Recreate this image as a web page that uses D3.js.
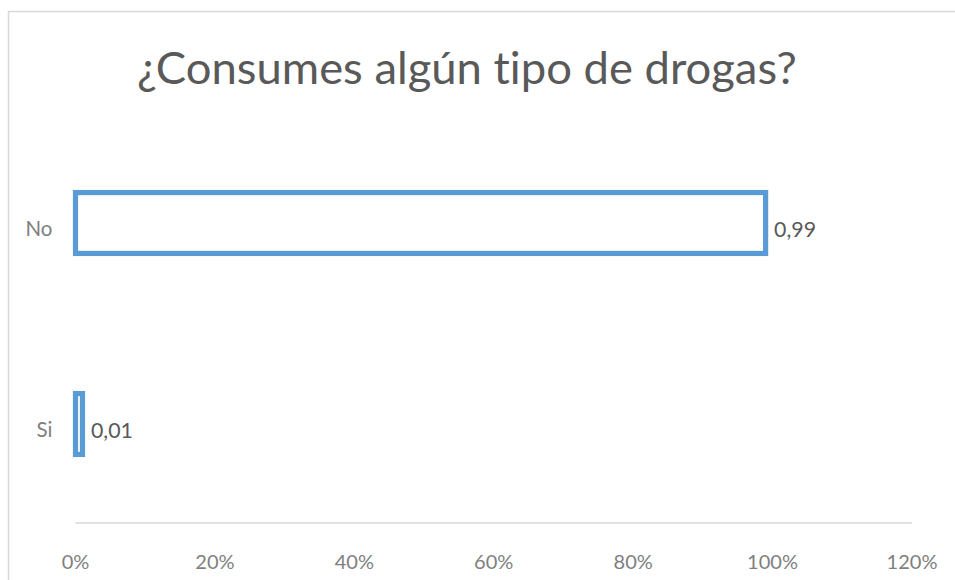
<!DOCTYPE html>
<html>
<head>
<meta charset="utf-8">
<script src="https://cdn.jsdelivr.net/npm/d3@7"></script>
<style>
  html, body { margin: 0; padding: 0; background: #fff; }
  svg { display: block; }
  text { font-family: Lato, "Noto Sans", sans-serif; font-variant-ligatures: none; }
</style>
</head>
<body>
<svg id="chart" width="955" height="580"></svg>
<script>
const title = "¿Consumes algún tipo de drogas?";
const categories = ["No", "Si"];
const values = [0.99, 0.01];
const tickValues = [0, 0.2, 0.4, 0.6, 0.8, 1.0, 1.2];

const W = 955, H = 580;
const svg = d3.select("#chart");

// outer chart border
svg.append("rect")
  .attr("x", 8.5).attr("y", 11.5)
  .attr("width", 960).attr("height", 600)
  .attr("fill", "#fff").attr("stroke", "#d9d9d9").attr("stroke-width", 1.5);

const x = d3.scaleLinear().domain([0, 1.2]).range([75.5, 912]);
const y = d3.scaleBand().domain(categories).range([122.5, 524.5]).paddingInner(0.697).paddingOuter(0.3485);

function fit(sel, targetW) {
  const n = sel.node();
  const fs = parseFloat(sel.attr("font-size"));
  const w = n.getComputedTextLength();
  sel.attr("font-size", fs * targetW / w);
}

// title
const t = svg.append("text")
  .attr("x", 467).attr("y", 83.5)
  .attr("text-anchor", "middle")
  .attr("font-size", 40)
  .attr("fill", "#595959")
  .text(title);
fit(t, 660);

// axis line
svg.append("line")
  .attr("x1", x(0)).attr("x2", x(1.2))
  .attr("y1", 523).attr("y2", 523)
  .attr("stroke", "#d9d9d9").attr("stroke-width", 1.5);

// x tick labels
const ticks = svg.append("g").selectAll("text").data(tickValues).join("text")
  .attr("x", d => x(d)).attr("y", 569)
  .attr("text-anchor", "middle")
  .attr("font-size", 20)
  .attr("fill", "#7f7f7f")
  .text(d => d3.format(".0%")(d));
{
  const last = ticks.filter(d => d === 1.2);
  const w = last.node().getComputedTextLength();
  ticks.attr("font-size", 20 * 51 / w);
}

// bars
const bh = y.bandwidth();
svg.append("g").selectAll("rect").data(categories).join("rect")
  .attr("x", x(0))
  .attr("y", (d) => y(d))
  .attr("width", (d, i) => x(values[i]) - x(0))
  .attr("height", bh)
  .attr("fill", "none")
  .attr("stroke", "#5b9bd5")
  .attr("stroke-width", 5.2);

// category labels
const cl = svg.append("g").selectAll("text").data(categories).join("text")
  .attr("x", 52.5)
  .attr("y", d => y(d) + bh / 2 + 12.5)
  .attr("text-anchor", "end")
  .attr("font-size", 20)
  .attr("fill", "#7f7f7f")
  .text(d => d);
{
  const w = cl.filter(d => d === "No").node().getComputedTextLength();
  cl.attr("font-size", 20 * 27 / w);
}

// data labels
const fmt = v => d3.format(".2f")(v).replace(".", ",");
const dl = svg.append("g").selectAll("text").data(categories).join("text")
  .attr("x", (d, i) => x(values[i]) + 8.5)
  .attr("y", d => y(d) + bh / 2 + 13.5)
  .attr("font-size", 20)
  .attr("fill", "#595959")
  .text((d, i) => fmt(values[i]));
{
  const w = dl.filter(d => d === "No").node().getComputedTextLength();
  dl.attr("font-size", 20 * 42 / w);
}
</script>
</body>
</html>
